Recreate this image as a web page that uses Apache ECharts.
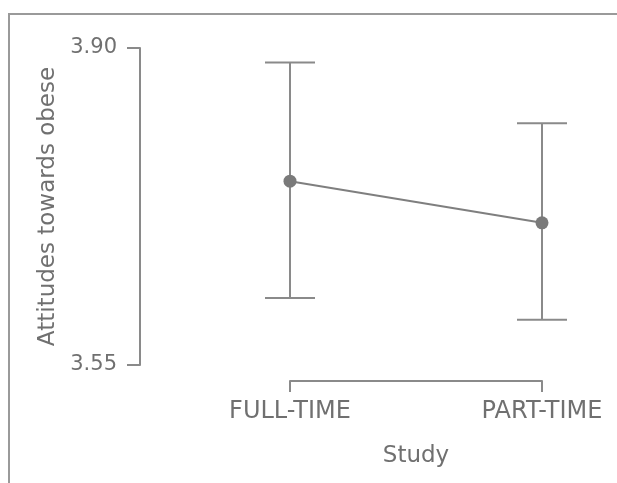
<!DOCTYPE html>
<html>
<head>
<meta charset="utf-8">
<script src="https://cdn.jsdelivr.net/npm/echarts@6/dist/echarts.min.js"></script>
<style>
  html, body { margin: 0; padding: 0; background: #ffffff; }
  #chart { width: 617px; height: 483px; }
</style>
</head>
<body>
<div id="chart"></div>
<script>
// Study mode groups
const categories = ['FULL-TIME', 'PART-TIME'];
// Estimated marginal means of attitudes towards obese people
const means = [3.753, 3.707];
// Error bar bounds (lower / upper)
const lower = [3.624, 3.600];
const upper = [3.884, 3.817];
// Y axis tick values
const yTicks = [3.55, 3.90];

const textColor = '#707070';
const lineColor = '#8a8a8a';
const font = 'DejaVu Sans';

const chart = echarts.init(document.getElementById('chart'), null, { renderer: 'canvas' });

const errorData = categories.map((c, i) => [i, lower[i], upper[i]]);

chart.setOption({
  animation: false,
  backgroundColor: '#ffffff',
  grid: { left: 290, right: 75, top: 48, bottom: 118, containLabel: false },
  xAxis: {
    type: 'category',
    data: categories,
    boundaryGap: false,
    offset: 16,
    name: 'Study',
    nameLocation: 'middle',
    nameGap: 64,
    nameTextStyle: { color: textColor, fontSize: 23, fontFamily: font },
    axisLine: { show: true, lineStyle: { color: lineColor, width: 2 } },
    axisTick: { show: true, length: 11, alignWithLabel: true, lineStyle: { color: lineColor, width: 2 } },
    axisLabel: { color: textColor, fontSize: 24, fontFamily: font, margin: 19, interval: 0 },
    splitLine: { show: false }
  },
  yAxis: {
    type: 'value',
    min: yTicks[0],
    max: yTicks[1],
    interval: yTicks[1] - yTicks[0],
    offset: 150,
    name: 'Attitudes towards obese',
    nameLocation: 'middle',
    nameGap: 80,
    nameTextStyle: { color: textColor, fontSize: 23, fontFamily: font },
    axisLine: { show: true, lineStyle: { color: lineColor, width: 2 } },
    axisTick: { show: true, length: 13, lineStyle: { color: lineColor, width: 2 } },
    axisLabel: {
      color: textColor, fontSize: 21, fontFamily: font, margin: 23,
      formatter: v => v.toFixed(2)
    },
    splitLine: { show: false }
  },
  graphic: [
    {
      type: 'polyline',
      shape: { points: [[9, 483], [9, 14], [617, 14]] },
      style: { stroke: '#9a9a9a', lineWidth: 2, fill: null },
      silent: true
    }
  ],
  series: [
    {
      type: 'custom',
      name: 'error',
      data: errorData,
      z: 2,
      renderItem: (params, api) => {
        const x = api.value(0);
        const lo = api.coord([x, api.value(1)]);
        const hi = api.coord([x, api.value(2)]);
        const half = 25;
        const style = { stroke: lineColor, lineWidth: 2 };
        return {
          type: 'group',
          children: [
            { type: 'line', shape: { x1: lo[0], y1: lo[1], x2: hi[0], y2: hi[1] }, style },
            { type: 'line', shape: { x1: hi[0] - half, y1: hi[1], x2: hi[0] + half, y2: hi[1] }, style },
            { type: 'line', shape: { x1: lo[0] - half, y1: lo[1], x2: lo[0] + half, y2: lo[1] }, style }
          ]
        };
      }
    },
    {
      type: 'line',
      name: 'mean',
      data: means,
      z: 3,
      symbol: 'circle',
      symbolSize: 13,
      lineStyle: { color: '#7f7f7f', width: 2 },
      itemStyle: { color: '#7a7a7a' }
    }
  ]
});
</script>
</body>
</html>
